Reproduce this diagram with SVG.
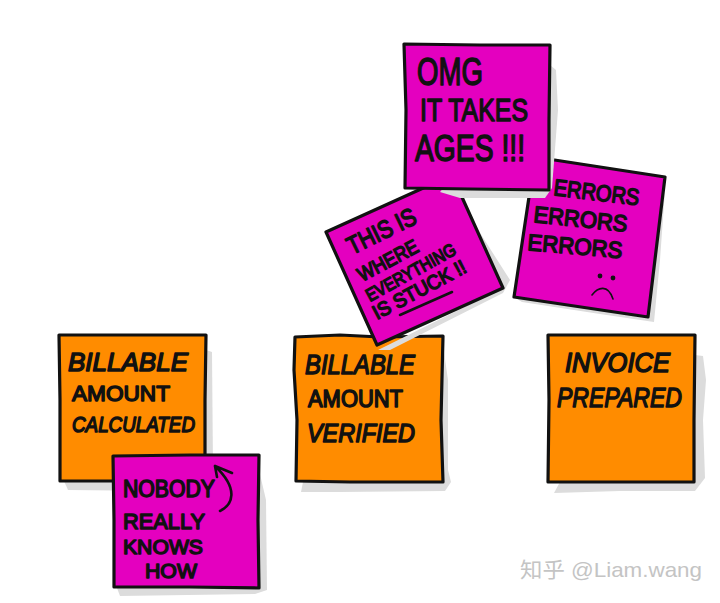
<svg xmlns="http://www.w3.org/2000/svg" width="720" height="603" viewBox="0 0 720 603">
<style>
.ink{font-family:"Liberation Sans",Arial,sans-serif;fill:#111;stroke:#111;stroke-width:1.5;stroke-linejoin:round}
.slant{font-style:italic}
.mark{fill:none;stroke:#111;stroke-linecap:round;stroke-linejoin:round}
.edge{stroke:#111;stroke-width:3.2;stroke-linejoin:round}
.orange{fill:#ff8c00}
.magenta{fill:#e400bf}
.shadow{fill:#dcdcdc;stroke:none}
.wm{font-family:"Liberation Sans","Noto Sans CJK SC",sans-serif;font-size:21px;fill:#c4c4c4}
</style>
<rect width="720" height="603" fill="#fff"/>
<g id="note-calculated">
<path class="shadow" d="M206 350L212 352L213 470L210 488L160 491L68 490L64 481Z"/>
<path class="orange edge" d="M59 335L150 335L206 335L205 400L205 481L130 481L60 481L60 400Z"/>
<text class="ink slant" x="68" y="371" font-size="26" textLength="120" lengthAdjust="spacingAndGlyphs">BILLABLE</text>
<text class="ink" x="72" y="401" font-size="22" textLength="98" lengthAdjust="spacingAndGlyphs">AMOUNT</text>
<text class="ink slant" x="72" y="432" font-size="22" textLength="123" lengthAdjust="spacingAndGlyphs">CALCULATED</text>
</g>
<g id="note-verified">
<path class="shadow" d="M443 345L448 380L448 470L451 482L445 491L340 492L301 492L303 482Z"/>
<path class="orange edge" d="M295 337L340 335L380 337L443 336L441 420L443 482L350 482L296 481L297 420L294 370Z"/>
<text class="ink slant" x="305" y="374" font-size="28" textLength="110" lengthAdjust="spacingAndGlyphs">BILLABLE</text>
<text class="ink" x="308" y="407" font-size="23" textLength="95" lengthAdjust="spacingAndGlyphs">AMOUNT</text>
<text class="ink slant" x="307" y="442" font-size="26" textLength="108" lengthAdjust="spacingAndGlyphs">VERIFIED</text>
</g>
<g id="note-invoice">
<path class="shadow" d="M695 355L703 356L706 380L703 420L705 478L695 491L620 491L554 493L560 482Z"/>
<path class="orange edge" d="M548 335L620 335L695 335L694 420L694 482L620 482L548 482L549 400Z"/>
<text class="ink slant" x="565" y="372" font-size="27" textLength="105" lengthAdjust="spacingAndGlyphs">INVOICE</text>
<text class="ink slant" x="557" y="407" font-size="28" textLength="125" lengthAdjust="spacingAndGlyphs">PREPARED</text>
</g>
<g id="note-nobody">
<path class="shadow" d="M259 470L266 500L267 590L255 594L120 596L117 588Z"/>
<path class="magenta edge" d="M113 456L190 455L259 455L258 520L259 588L190 587L114 587L114 520Z"/>
<text class="ink" x="123" y="497" font-size="23" textLength="92" lengthAdjust="spacingAndGlyphs">NOBODY</text>
<text class="ink" x="123" y="529" font-size="22" textLength="82" lengthAdjust="spacingAndGlyphs">REALLY</text>
<text class="ink" x="123" y="554" font-size="21" textLength="80" lengthAdjust="spacingAndGlyphs">KNOWS</text>
<text class="ink" x="145" y="578" font-size="21" textLength="52" lengthAdjust="spacingAndGlyphs">HOW</text>
<path class="mark" stroke-width="2.6" d="M220 511C232 505 240 490 215 466M215 466L232 473M215 466L217 477"/>
</g>
<g id="note-errors">
<path class="shadow" d="M665 190L660 260L654 322L600 314L522 302L514 297L648 317Z"/>
<path class="magenta edge" d="M535 157L665 177L648 317L514 297Z"/>
<text class="ink" font-size="23" transform="translate(553 195) rotate(7)" textLength="86" lengthAdjust="spacingAndGlyphs">ERRORS</text>
<text class="ink" font-size="23" transform="translate(533 222) rotate(6)" textLength="94" lengthAdjust="spacingAndGlyphs">ERRORS</text>
<text class="ink" font-size="23" transform="translate(527 250) rotate(5)" textLength="95" lengthAdjust="spacingAndGlyphs">ERRORS</text>
<circle cx="600" cy="276" r="2.4" fill="#111"/>
<circle cx="613" cy="278" r="2.4" fill="#111"/>
<path class="mark" stroke-width="1.6" d="M592 295C598 287 608 284 613 299"/>
</g>
<g id="note-stuck">
<path class="shadow" d="M460 195L475 225L510 280L503 293L390 350L378 350L503 288Z"/>
<path class="magenta edge" d="M452 175L503 288L377 345L326 232Z"/>
<text class="ink" font-size="25" transform="translate(352 255) rotate(-26)" textLength="74" lengthAdjust="spacingAndGlyphs">THIS IS</text>
<text class="ink" font-size="20" transform="translate(362 282) rotate(-28)" textLength="66" lengthAdjust="spacingAndGlyphs">WHERE</text>
<text class="ink" font-size="18" transform="translate(370 302) rotate(-29)" textLength="100" lengthAdjust="spacingAndGlyphs">EVERYTHING</text>
<text class="ink" font-size="20" transform="translate(377 320) rotate(-28)" textLength="103" lengthAdjust="spacingAndGlyphs">IS STUCK !!</text>
<path class="mark" stroke-width="2.6" d="M400 315L452 292"/>
</g>
<g id="note-omg">
<path class="shadow" d="M550 65L556 70L558 110L552 188L545 198L460 198L440 192Z"/>
<path class="magenta edge" d="M404 44L480 45L550 45L549 120L549 190L470 189L405 188L406 110Z"/>
<text class="ink" x="417" y="85" font-size="38" textLength="66" lengthAdjust="spacingAndGlyphs">OMG</text>
<text class="ink" x="420" y="121" font-size="32" textLength="108" lengthAdjust="spacingAndGlyphs">IT TAKES</text>
<text class="ink" x="415" y="161" font-size="36" textLength="110" lengthAdjust="spacingAndGlyphs">AGES !!!</text>
</g>
<text class="wm" x="520" y="577" textLength="182" lengthAdjust="spacingAndGlyphs">知乎 @Liam.wang</text>
</svg>
